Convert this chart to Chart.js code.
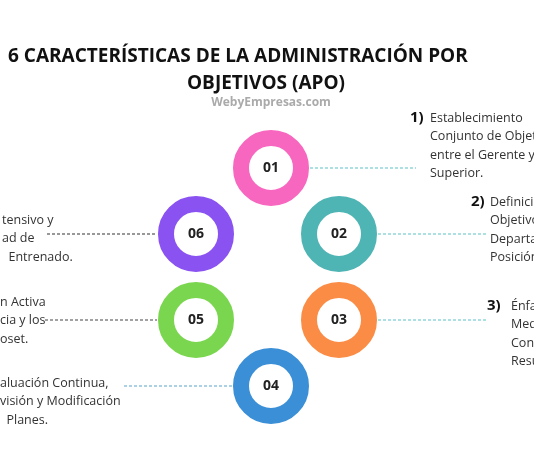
<!DOCTYPE html>
<html>
<head>
<meta charset="utf-8">
<script src="https://cdn.jsdelivr.net/npm/chart.js@4/dist/chart.umd.min.js"></script>
<style>
  html, body { margin: 0; padding: 0; background: #fff; }
  #wrap { width: 534px; height: 462px; }
</style>
</head>
<body>
<div id="wrap"><canvas id="chart"></canvas></div>
<script>
// ring positions (in the 534x462 plan of the picture)
var ringLabels = ['01', '02', '03', '04', '05', '06'];
var ringX = [271, 339, 339, 271, 196, 196];
var ringY = [168, 234, 320, 386, 320, 234];
var ringColors = ['#f766bf', '#4fb4b4', '#fb8c45', '#3a8fd6', '#7bd64f', '#8a52f0'];

// dashed connectors: start x, end x, y
var lineFrom = [310, 378, 378, 124, 45, 47];
var lineTo = [416, 487, 487, 232, 157, 157];
var lineColors = ['#5bc2c8', '#5bc2c8', '#5bc2c8', '#5aa3c8', '#444', '#333'];

var titleLines = ['6 CARACTERÍSTICAS DE LA ADMINISTRACIÓN POR', 'OBJETIVOS (APO)'];
var subtitle = 'WebyEmpresas.com';

// text blocks: [number, numX, textX, firstY, lines]
var notes = [
    ['1)', 410, 430, 118, ['Establecimiento', 'Conjunto de Objetivos', 'entre el Gerente y su', 'Superior.']],
    ['2)', 471, 490, 202, ['Definición de los', 'Objetivos de cada', 'Departamento o', 'Posición.']],
    ['3)', 487, 511, 306, ['Énfasis en la', 'Medición y', 'Control de los', 'Resultados.']],
    ['', 0, 2, 220, ['tensivo y', 'ad de', '  Entrenado.']],
    ['', 0, 0, 302, ['n Activa', 'cia y los', 'oset.']],
    ['', 0, 0, 383, ['aluación Continua,', 'visión y Modificación', '  Planes.']]
];

var points = ringX.map(function (x, i) { return { x: x, y: ringY[i] }; });

var datasets = [{
    data: points,
    pointRadius: 30,
    pointHoverRadius: 30,
    pointBorderWidth: 16,
    pointHoverBorderWidth: 16,
    pointBackgroundColor: '#fff',
    pointBorderColor: ringColors,
    order: 0
}];
// connectors as dashed line datasets
lineFrom.forEach(function (x0, i) {
    var y = ringY[i];
    datasets.push({
        type: 'line',
        data: [{ x: x0, y: y }, { x: lineTo[i], y: y }],
        borderColor: lineColors[i],
        borderWidth: 1.2,
        borderDash: [3, 2],
        pointRadius: 0,
        order: 1
    });
});

var textPlugin = {
    id: 'texts',
    afterDatasetsDraw: function (chart) {
        var ctx = chart.ctx;
        var sx = chart.scales.x, sy = chart.scales.y;
        ctx.save();
        ctx.textBaseline = 'middle';
        // numbers in rings
        ctx.fillStyle = '#222';
        ctx.font = 'bold 14px "Open Sans", sans-serif';
        ctx.textAlign = 'center';
        ringLabels.forEach(function (t, i) {
            ctx.fillText(t, sx.getPixelForValue(ringX[i]), sy.getPixelForValue(ringY[i]));
        });
        // title
        ctx.fillStyle = '#111';
        ctx.font = 'bold 19px "Open Sans", sans-serif';
        ctx.textAlign = 'left';
        ctx.fillText(titleLines[0], sx.getPixelForValue(8), sy.getPixelForValue(57));
        ctx.textAlign = 'center';
        ctx.fillText(titleLines[1], sx.getPixelForValue(266), sy.getPixelForValue(84));
        ctx.fillStyle = '#aaa';
        ctx.font = 'bold 12px "Open Sans", sans-serif';
        ctx.fillText(subtitle, sx.getPixelForValue(271), sy.getPixelForValue(103));
        // notes
        ctx.textAlign = 'left';
        notes.forEach(function (n) {
            if (n[0]) {
                ctx.fillStyle = '#111';
                ctx.font = 'bold 15px "Open Sans", sans-serif';
                ctx.fillText(n[0], sx.getPixelForValue(n[1]), sy.getPixelForValue(n[3]));
            }
            ctx.fillStyle = '#333';
            ctx.font = '12.5px "Open Sans", sans-serif';
            n[4].forEach(function (t, j) {
                ctx.fillText(t, sx.getPixelForValue(n[2]), sy.getPixelForValue(n[3] + j * 18.5));
            });
        });
        ctx.restore();
    }
};

var chart = new Chart(document.getElementById('chart').getContext('2d'), {
    type: 'scatter',
    data: { datasets: datasets },
    options: {
        responsive: true,
        maintainAspectRatio: false,
        animation: false,
        layout: { padding: 0, autoPadding: false },
        plugins: { legend: { display: false }, tooltip: { enabled: false } },
        scales: {
            x: { type: 'linear', min: 0, max: 534, display: false },
            y: { type: 'linear', min: 0, max: 462, reverse: true, display: false }
        }
    },
    plugins: [textPlugin]
});
</script>
</body>
</html>
